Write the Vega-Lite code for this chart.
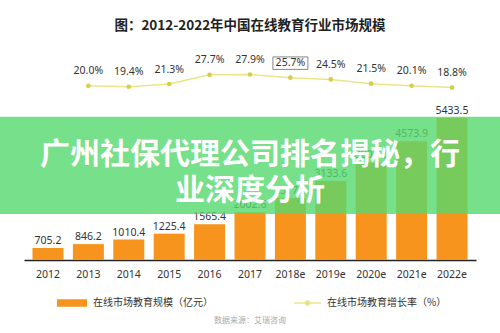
{
  "$schema": "https://vega.github.io/schema/vega-lite/v6.json",
  "width": 500,
  "height": 220,
  "autosize": {"type": "none"},
  "padding": {"top": 40, "left": 0, "right": 0, "bottom": 73},
  "background": "white",
  "config": {"view": {"stroke": null}, "font": "Noto Sans"},
  "title": {
    "text": "图：2012-2022年中国在线教育行业市场规模",
    "anchor": "middle",
    "font": "Noto Sans CJK SC",
    "fontSize": 13.5,
    "fontWeight": "bold",
    "color": "#222222",
    "offset": 8
  },
  "data": {
    "values": [
      {"year": "2012", "size": 705.2, "rate": null},
      {"year": "2013", "size": 846.2, "rate": 0.200},
      {"year": "2014", "size": 1010.4, "rate": 0.194},
      {"year": "2015", "size": 1225.4, "rate": 0.213},
      {"year": "2016", "size": 1565.4, "rate": 0.277},
      {"year": "2017", "size": 2002.6, "rate": 0.279},
      {"year": "2018e", "size": 2517.3, "rate": 0.257},
      {"year": "2019e", "size": 3133.6, "rate": 0.245},
      {"year": "2020e", "size": 3807.3, "rate": 0.215},
      {"year": "2021e", "size": 4573.9, "rate": 0.201},
      {"year": "2022e", "size": 5433.5, "rate": 0.188}
    ]
  },
  "layer": [
    {
      "layer": [
        {
          "mark": {"type": "bar"},
          "encoding": {
            "x": {
              "field": "year",
              "type": "nominal",
              "sort": ["2012", "2013", "2014", "2015", "2016", "2017", "2018e", "2019e", "2020e", "2021e", "2022e"],
              "scale": {"type": "band", "range": [24, 476], "paddingInner": 0.233, "paddingOuter": 0.21},
              "axis": {
                "title": null,
                "labelAngle": 0,
                "ticks": false,
                "grid": false,
                "domainColor": "#222222",
                "domainWidth": 1.5,
                "labelFont": "Noto Sans",
                "labelFontSize": 10.5,
                "labelColor": "#333333",
                "labelPadding": 9
              }
            },
            "y": {"field": "size", "type": "quantitative", "scale": {"domain": [270, 8250], "zero": false, "nice": false}, "axis": null},
            "y2": {"datum": 270},
            "fill": {
              "datum": "在线市场教育规模（亿元）",
              "scale": {"range": ["#f7941d"]},
              "legend": {
                "orient": "none",
                "legendX": 56,
                "legendY": 247,
                "title": null,
                "symbolType": "M-1,-0.25H1V0.25H-1Z",
                "symbolSize": 900,
                "symbolOpacity": 1,
                "labelFont": "Noto Sans CJK SC",
                "labelFontSize": 10,
                "labelColor": "#333333",
                "labelOffset": 5
              }
            }
          }
        },
        {
          "mark": {"type": "text", "dy": -4, "baseline": "alphabetic", "fontSize": 10.5, "color": "#333333", "font": "Noto Sans"},
          "encoding": {
            "x": {"field": "year", "type": "nominal", "sort": ["2012", "2013", "2014", "2015", "2016", "2017", "2018e", "2019e", "2020e", "2021e", "2022e"]},
            "y": {"field": "size", "type": "quantitative"},
            "text": {"field": "size", "type": "quantitative", "format": ".1f"}
          }
        },
        {
          "data": {"values": [{"band": "overlay"}]},
          "mark": {"type": "rect", "color": "#55d86d", "opacity": 0.8},
          "encoding": {
            "y": {"datum": 5470, "type": "quantitative"},
            "y2": {"datum": 1943}
          }
        },
        {
          "data": {"values": [{"year": "2017"}]},
          "mark": {
            "type": "text",
            "text": ["广州社保代理公司排名揭秘，行", "业深度分析"],
            "font": "Noto Sans CJK SC",
            "fontWeight": "bold",
            "fontSize": 30,
            "lineHeight": 36,
            "color": "#ffffff",
            "align": "center",
            "baseline": "middle"
          },
          "encoding": {
            "x": {"field": "year", "type": "nominal"},
            "y": {"datum": 4080, "type": "quantitative"}
          }
        },
        {
          "data": {"values": [{"year": "2017"}]},
          "mark": {
            "type": "text",
            "text": "数据来源：艾瑞咨询",
            "font": "Noto Sans CJK SC",
            "fontSize": 8,
            "color": "#aaaaaa",
            "align": "center",
            "baseline": "middle"
          },
          "encoding": {
            "x": {"field": "year", "type": "nominal"},
            "y": {"datum": -1943, "type": "quantitative"}
          }
        }
      ]
    },
    {
      "transform": [{"filter": "isValid(datum.rate)"}],
      "encoding": {
        "x": {"field": "year", "type": "nominal", "sort": ["2012", "2013", "2014", "2015", "2016", "2017", "2018e", "2019e", "2020e", "2021e", "2022e"]},
        "y": {"field": "rate", "type": "quantitative", "scale": {"domain": [-1.009, 0.5185], "zero": false, "nice": false}, "axis": null}
      },
      "layer": [
        {
          "mark": {"type": "line", "strokeWidth": 1.5},
          "encoding": {
            "stroke": {
              "datum": "在线市场教育增长率（%）",
              "scale": {"range": ["#ebe58a"]},
              "legend": {
                "orient": "none",
                "legendX": 293,
                "legendY": 248.5,
                "title": null,
                "symbolType": "M-1,0H1M-0.15,0A0.15,0.15,0,1,1,0.15,0A0.15,0.15,0,1,1,-0.15,0",
                "symbolSize": 729,
                "symbolStrokeWidth": 1.5,
                "symbolFillColor": "#d6ce45",
                "labelFont": "Noto Sans CJK SC",
                "labelFontSize": 10,
                "labelColor": "#333333",
                "labelOffset": 5
              }
            }
          }
        },
        {
          "mark": {"type": "point", "filled": true, "size": 22, "color": "#d6ce45", "opacity": 1}
        },
        {
          "mark": {"type": "text", "dy": -14.5, "baseline": "middle", "fontSize": 10.5, "color": "#333333", "font": "Noto Sans"},
          "encoding": {"text": {"field": "rate", "type": "quantitative", "format": ".1%"}}
        },
        {
          "transform": [{"filter": "datum.year === '2018e'"}],
          "mark": {
            "type": "point",
            "shape": "M-1.4,-0.5H1.4V0.5H-1.4Z",
            "size": 625,
            "filled": false,
            "stroke": "#888888",
            "strokeWidth": 1,
            "opacity": 1,
            "yOffset": -14.5
          }
        }
      ]
    }
  ],
  "resolve": {"scale": {"y": "independent"}}
}
